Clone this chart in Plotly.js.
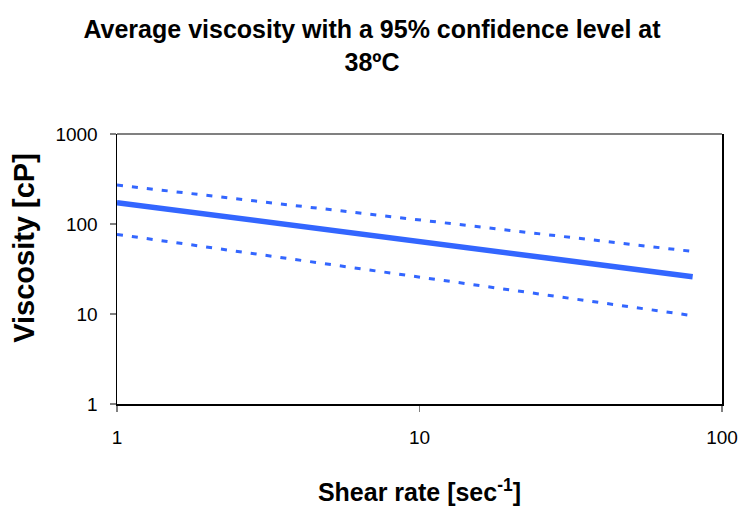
<!DOCTYPE html>
<html>
<head>
<meta charset="utf-8">
<script src="https://cdn.plot.ly/plotly-3.0.1.min.js"></script>
<style>html,body{margin:0;padding:0;background:#fff;}#chart{width:744px;height:511px;}</style>
</head>
<body>
<div id="chart"></div>
<script>
// Shear rate [1/s]
const shearMean = [1, 10, 30, 80];
const viscMean = [172.6, 65, 39.8, 26];
const shearUpper = [1, 10, 30, 78];
const viscUpper = [271, 111, 72, 50];
const shearLower = [1, 10, 30, 78];
const viscLower = [76.7, 25.6, 15.2, 9.7];
const xTicks = [1, 10, 100];
const yTicks = [1, 10, 100, 1000];

const blue = '#3366FF';
const font = 'Liberation Sans, Arial, sans-serif';

const traces = [
  {x: shearUpper, y: viscUpper, mode: 'lines', name: 'Upper 95%',
   line: {color: blue, width: 3, dash: '6px,9px'}},
  {x: shearLower, y: viscLower, mode: 'lines', name: 'Lower 95%',
   line: {color: blue, width: 3, dash: '6px,9px'}},
  {x: shearMean, y: viscMean, mode: 'lines', name: 'Average',
   line: {color: blue, width: 5.5}}
];

const layout = {
  width: 744, height: 511,
  margin: {l: 117, r: 22, t: 134, b: 107},
  paper_bgcolor: '#fff', plot_bgcolor: '#fff',
  showlegend: false,
  font: {family: font, color: '#000', size: 19},
  title: {
    text: 'Average viscosity with a 95% confidence level at<br>38ºC',
    font: {family: font, size: 25, color: '#000', weight: 'bold'},
    x: 0.5, xanchor: 'center', y: 0.925, yanchor: 'top', yref: 'container'
  },
  xaxis: {
    type: 'log', range: [0, 2],
    tickvals: xTicks, ticktext: xTicks.map(String),
    ticks: 'outside', ticklen: 6, tickcolor: '#808080', tickwidth: 1.5,
    ticklabelstandoff: 10,
    showgrid: false, zeroline: false,
    showline: true, linecolor: '#000', linewidth: 1.5,
    tickfont: {size: 19},
    title: {text: '<b>Shear rate [sec<sup>-1</sup>]</b>', font: {size: 25}, standoff: 36}
  },
  yaxis: {
    type: 'log', range: [0, 3],
    tickvals: yTicks, ticktext: yTicks.map(String),
    ticks: 'outside', ticklen: 6, tickcolor: '#808080', tickwidth: 1.5,
    ticklabelstandoff: 8,
    showgrid: false, zeroline: false,
    showline: true, linecolor: '#000', linewidth: 1.5, mirror: true,
    tickfont: {size: 19}
  },
  annotations: [
    {text: '<b>Viscosity [cP]</b>', textangle: -90, showarrow: false,
     xref: 'paper', yref: 'paper', x: -0.153, y: 0.58,
     xanchor: 'center', yanchor: 'middle',
     font: {family: font, size: 29, color: '#000'}}
  ],
  shapes: [
    {type: 'line', xref: 'paper', yref: 'paper', x0: 0, x1: 1, y0: 1, y1: 1,
     line: {color: '#808080', width: 2}}
  ]
};

Plotly.newPlot('chart', traces, layout, {displayModeBar: false, staticPlot: true});
</script>
</body>
</html>
